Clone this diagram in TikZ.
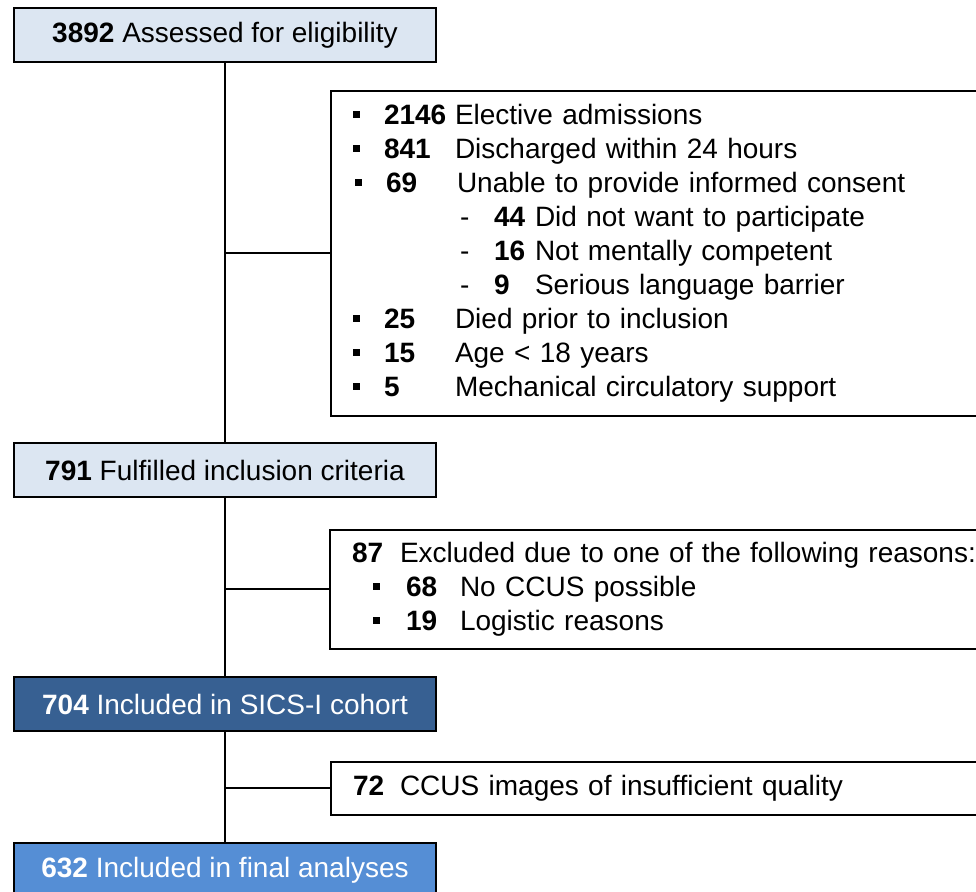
\documentclass[tikz,border=0pt]{standalone}
\usepackage{fontspec}
\setmainfont{Liberation Sans}
\definecolor{paleblue}{RGB}{220,230,242}
\definecolor{deepblue}{RGB}{55,96,146}
\definecolor{midblue}{RGB}{85,142,213}
\newcommand\sqmark{\rule[3.5pt]{3.5pt}{3.5pt}}
\newcommand\itemA[2]{\makebox[15.5pt][l]{\sqmark}\makebox[35.5pt][l]{\textbf{#1}}#2}
\newcommand\subA[2]{\hspace*{53.5pt}\makebox[17pt][l]{-}\makebox[20.5pt][l]{\textbf{#1}}#2}
\newcommand\itemB[2]{\hspace*{10.5pt}\makebox[16.5pt][l]{\sqmark}\makebox[27pt][l]{\textbf{#1}}#2}

\begin{document}
\begin{tikzpicture}[x=0.5pt,y=-0.5pt,
  stage/.style={draw, line width=1pt, minimum width=211pt, minimum height=27pt,
    inner sep=0pt, font=\fontsize{14}{17}\selectfont},
  exclbox/.style={draw, line width=1pt, anchor=north west, align=left,
    text width=340pt, inner xsep=11pt, inner ysep=0pt, font=\fontsize{14}{17}\selectfont},
  link/.style={line width=1pt}]
\clip (0,0) rectangle (976,892);

% main flow
\node[stage, fill=paleblue] (assessed) at (225,35) {\textbf{3892} Assessed for eligibility};
\node[stage, fill=paleblue] (fulfilled) at (225,470) {\textbf{791} Fulfilled inclusion criteria};
\node[stage, fill=deepblue, text=white] (cohort) at (225,704) {\textbf{704} Included in SICS-I cohort};
\node[stage, fill=midblue, text=white] (final) at (225,870) {\textbf{632} Included in final analyses};

% exclusions
\node[exclbox, minimum height=162.5pt] (exclA) at (330,90) {%
  \itemA{2146}{Elective admissions}\\
  \itemA{841}{Discharged within 24 hours}\\
  \hspace*{1pt}\itemA{69}{Unable to provide informed consent}\\
  \subA{44}{Did not want to participate}\\
  \subA{16}{Not mentally competent}\\
  \subA{9}{Serious language barrier}\\
  \itemA{25}{Died prior to inclusion}\\
  \itemA{15}{Age < 18 years}\\
  \itemA{5}{Mechanical circulatory support}};
\node[exclbox, minimum height=59.5pt] (exclB) at (329,529) {%
  \makebox[24pt][l]{\textbf{87}}Excluded due to one of the following reasons:\\
  \itemB{68}{No CCUS possible}\\
  \itemB{19}{Logistic reasons}};
\node[exclbox, minimum height=26.5pt] (exclC) at (330,761) {%
  \makebox[23.5pt][l]{\textbf{72}}CCUS images of insufficient quality};

% connectors
\draw[link] (assessed.south) -- (fulfilled.north);
\draw[link] (fulfilled.south) -- (cohort.north);
\draw[link] (cohort.south) -- (final.north);
\draw[link] (exclA.west) -- (exclA.west -| assessed.south);
\draw[link] (exclB.west) -- (exclB.west -| fulfilled.south);
\draw[link] (exclC.west) -- (exclC.west -| cohort.south);
\end{tikzpicture}
\end{document}
